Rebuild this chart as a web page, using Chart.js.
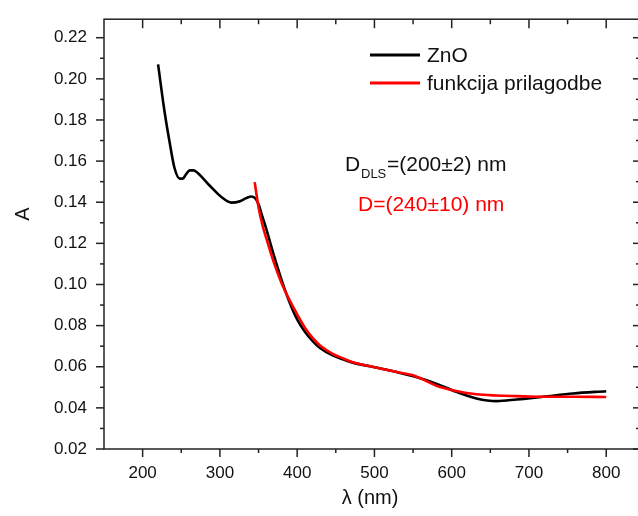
<!DOCTYPE html>
<html>
<head>
<meta charset="utf-8">
<script src="https://cdn.jsdelivr.net/npm/chart.js@4"></script>
<style>
  html, body { margin: 0; padding: 0; background: #fff; overflow: hidden; }
  #wrap { width: 642px; height: 516px; }
</style>
</head>
<body>
<div id="wrap"><canvas id="chart" width="642" height="516"></canvas></div>
<script>
// --- data ---
const znoX = [220, 228, 235, 241, 248, 252, 256, 261, 266, 272, 287, 302, 315, 326, 334, 341, 346, 350, 355, 360, 370, 380, 390, 400, 410, 420, 430, 446, 460, 472, 500, 529, 554, 580, 606, 632, 658, 684, 718, 757, 800];
const znoY = [0.207, 0.185, 0.169, 0.157, 0.1515, 0.1515, 0.1535, 0.1555, 0.1555, 0.154, 0.148, 0.1425, 0.1398, 0.1405, 0.142, 0.1428, 0.1418, 0.139, 0.133, 0.127, 0.114, 0.102, 0.0915, 0.083, 0.077, 0.0725, 0.069, 0.0655, 0.0635, 0.062, 0.0598, 0.0574, 0.055, 0.0518, 0.0478, 0.0446, 0.0433, 0.0441, 0.0454, 0.047, 0.0481];

const fitX = [345, 350, 355, 360, 370, 380, 390, 400, 410, 420, 430, 446, 460, 472, 500, 529, 554, 580, 606, 632, 658, 684, 718, 757, 800];
const fitY = [0.1498, 0.1375, 0.129, 0.1225, 0.1105, 0.1005, 0.0925, 0.0855, 0.079, 0.074, 0.0702, 0.0663, 0.064, 0.0622, 0.0598, 0.0574, 0.0553, 0.0508, 0.0482, 0.0466, 0.046, 0.0457, 0.0454, 0.0454, 0.0453];

const xTicks = [200, 300, 400, 500, 600, 700, 800];
const xMinorTicks = [250, 350, 450, 550, 650, 750];
const yTicks = [0.02, 0.04, 0.06, 0.08, 0.10, 0.12, 0.14, 0.16, 0.18, 0.20, 0.22];
const yMinorTicks = [0.03, 0.05, 0.07, 0.09, 0.11, 0.13, 0.15, 0.17, 0.19, 0.21];

const FONT = "'Liberation Sans', Arial, sans-serif";

// --- frame, ticks, legend, notes ---
const framePlugin = {
  id: "frame",
  afterDraw(chart) {
    const { ctx, chartArea: a, scales: { x, y } } = chart;
    const seg = (x1, y1, x2, y2) => { ctx.beginPath(); ctx.moveTo(x1, y1); ctx.lineTo(x2, y2); ctx.stroke(); };
    ctx.save();
    ctx.strokeStyle = "#222";
    ctx.lineWidth = 1.5;
    ctx.strokeRect(a.left, a.top, a.right - a.left, a.bottom - a.top);

    xTicks.forEach(v => { const p = x.getPixelForValue(v); seg(p, a.bottom, p, a.bottom + 8); seg(p, a.top, p, a.top + 9); });
    xMinorTicks.forEach(v => { const p = x.getPixelForValue(v); seg(p, a.bottom, p, a.bottom + 4); seg(p, a.top, p, a.top + 5); });
    yTicks.forEach(v => { const p = y.getPixelForValue(v); seg(a.left - 8, p, a.left, p); seg(a.right - 8, p, a.right, p); });
    yMinorTicks.forEach(v => { const p = y.getPixelForValue(v); seg(a.left - 4, p, a.left, p); seg(a.right - 5, p, a.right, p); });

    // axis titles
    ctx.fillStyle = "#111";
    ctx.font = "20px " + FONT;
    ctx.textAlign = "center";
    ctx.textBaseline = "middle";
    ctx.fillText("λ (nm)", 370, 498);
    ctx.save();
    ctx.translate(23, 214);
    ctx.rotate(-Math.PI / 2);
    ctx.fillText("A", 0, 0);
    ctx.restore();

    // legend
    ctx.textAlign = "left";
    ctx.font = "21px " + FONT;
    chart.data.datasets.forEach((ds, i) => {
      const ly = 55 + i * 28;
      ctx.strokeStyle = ds.borderColor;
      ctx.lineWidth = 3;
      seg(370, ly, 420, ly);
      ctx.fillStyle = "#111";
      ctx.fillText(ds.label, 427, ly + 1);
    });

    // notes
    ctx.textBaseline = "alphabetic";
    ctx.fillStyle = "#111";
    ctx.font = "21px " + FONT;
    ctx.fillText("D", 345, 171);
    ctx.font = "13px " + FONT;
    ctx.fillText("DLS", 361, 178);
    ctx.font = "21px " + FONT;
    ctx.fillText("=(200±2) nm", 387, 171);
    ctx.fillStyle = "#ff0000";
    ctx.fillText("D=(240±10) nm", 358, 211);
    ctx.restore();
  }
};

new Chart(document.getElementById("chart"), {
  type: "line",
  data: {
    datasets: [
      {
        label: "ZnO",
        data: znoX.map((v, i) => ({ x: v, y: znoY[i] })),
        borderColor: "#000000",
        borderWidth: 2.6,
        pointRadius: 0,
        cubicInterpolationMode: "monotone",
        order: 2
      },
      {
        label: "funkcija prilagodbe",
        data: fitX.map((v, i) => ({ x: v, y: fitY[i] })),
        borderColor: "#ff0000",
        borderWidth: 2.6,
        pointRadius: 0,
        cubicInterpolationMode: "monotone",
        order: 1
      }
    ]
  },
  options: {
    responsive: false,
    animation: false,
    devicePixelRatio: 1,
    layout: { padding: { left: 0, top: 15, right: 1, bottom: 0 } },
    plugins: { legend: { display: false }, tooltip: { enabled: false } },
    scales: {
      x: {
        type: "linear",
        min: 150,
        max: 845,
        grid: { display: false },
        border: { display: false },
        afterBuildTicks: s => { s.ticks = xTicks.map(v => ({ value: v })); },
        afterFit: s => { s.height = 67; },
        ticks: { padding: 6, color: "#111", font: { family: FONT, size: 17 } }
      },
      y: {
        type: "linear",
        min: 0.02,
        max: 0.229,
        grid: { display: false },
        border: { display: false },
        afterBuildTicks: s => { s.ticks = yTicks.map(v => ({ value: v })); },
        afterFit: s => { s.width = 104; },
        ticks: { padding: 9, color: "#111", font: { family: FONT, size: 17 }, callback: v => v.toFixed(2) }
      }
    }
  },
  plugins: [framePlugin]
});
</script>
</body>
</html>
